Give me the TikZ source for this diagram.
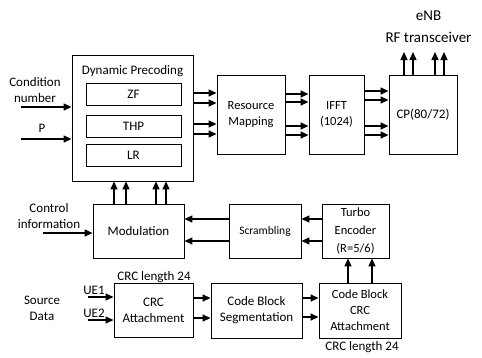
\documentclass[tikz,border=0pt]{standalone}
\usepackage{fontspec}
\setmainfont{Carlito}
\usetikzlibrary{arrows.meta}
\begin{document}
\begin{tikzpicture}[x=1pt,y=-1pt,
  blk/.style={draw,line width=0.9pt,inner sep=0pt,font=\fontsize{13}{16}\selectfont,align=center},
  lbl/.style={inner sep=0pt,font=\fontsize{13}{16}\selectfont,align=center},
  arr/.style={line width=1.4pt,-{Triangle[length=8pt,width=7pt]}}]
\useasboundingbox[fill=white] (0,0) rectangle (482,357);

% precoding block with its three schemes
\node[blk,minimum width=121pt,minimum height=126pt] (dp) at (132.5,118) {};
\node[lbl] (dpt) at (132.5,71) {Dynamic Precoding};
\node[blk,minimum width=95pt,minimum height=22pt] (zf) at (133.5,94) {ZF};
\node[blk,minimum width=95pt,minimum height=22pt] (thp) at (133.5,126) {THP};
\node[blk,minimum width=95pt,minimum height=22pt] (lr) at (133.5,155) {LR};

% OFDM chain
\node[blk,minimum width=68pt,minimum height=79pt,font=\fontsize{12.5}{16}\selectfont] (rm) at (251,114.5) {Resource\\Mapping};
\node[blk,minimum width=55pt,minimum height=79pt,font=\fontsize{12.5}{16}\selectfont] (ifft) at (336.5,114.5) {IFFT\\(1024)};
\node[blk,minimum width=68pt,minimum height=79pt] (cp) at (423,114.5) {CP(80/72)};

% coding and modulation chain
\node[blk,minimum width=91pt,minimum height=54pt] (mod) at (138.5,231) {Modulation};
\node[blk,minimum width=72pt,minimum height=54pt,font=\fontsize{11.5}{14}\selectfont] (scr) at (265,231) {Scrambling};
\node[blk,minimum width=67pt,minimum height=54pt,font=\fontsize{12.5}{18}\selectfont] (turbo) at (355.5,231) {Turbo\\Encoder\\(R=5/6)};
\node[blk,minimum width=79pt,minimum height=54pt] (crc) at (153.5,310) {CRC\\Attachment};
\node[blk,minimum width=91pt,minimum height=55pt] (seg) at (256.5,310.5) {Code Block\\Segmentation};
\node[blk,minimum width=82pt,minimum height=55pt,font=\fontsize{12.5}{16}\selectfont] (cbcrc) at (360,310.5) {Code Block\\CRC\\Attachment};

% free labels
\node[lbl,font=\fontsize{15}{22}\selectfont] (enb) at (428.5,27) {eNB\\RF transceiver};
\node[lbl] (cond) at (35,90) {Condition\\number};
\node[lbl] (plbl) at (42,128) {P};
\node[lbl] (ctrl) at (49,216) {Control\\information};
\node[lbl] (src) at (42,308.5) {Source\\Data};
\node[lbl] (crcl1) at (154,277) {CRC length 24};
\node[lbl] (crcl2) at (362,347) {CRC length 24};
\node[lbl,anchor=south] (ue1) at (94,295) {UE1};
\node[lbl,anchor=south] (ue2) at (94,318) {UE2};

% free ends of the input arrows
\coordinate (condin) at (21,107);
\coordinate (pin) at (21,139);
\coordinate (ctrlin) at (43,233);
\coordinate (ue1in) at (88,297);
\coordinate (ue2in) at (88,320);

% inputs
\draw[arr] (condin) -- (dp.west |- condin);
\draw[arr] (pin) -- (dp.west |- pin);
\draw[arr] (ctrlin) -- (mod.west |- ctrlin);
\draw[arr] (ue1in) -- (crc.west |- ue1in);
\draw[arr] (ue2in) -- (crc.west |- ue2in);

% precoding -> resource mapping -> IFFT -> CP
\foreach \y in {93,103,124,134} \draw[arr] (dp.east |- 0,\y) -- (rm.west |- 0,\y);
\foreach \y in {94,102,126,135} \draw[arr] (rm.east |- 0,\y) -- (ifft.west |- 0,\y);
\foreach \y in {91,100,126,135} \draw[arr] (ifft.east |- 0,\y) -- (cp.west |- 0,\y);
\foreach \x in {404,413,435,444} \draw[arr] (cp.north -| \x,0) -- (\x,52);

% modulation -> precoding
\foreach \x in {114,126,156,166} \draw[arr] (mod.north -| \x,0) -- (dp.south -| \x,0);

% turbo -> scrambling -> modulation
\foreach \y in {219,241} {
  \draw[arr] (turbo.west |- 0,\y) -- (scr.east |- 0,\y);
  \draw[arr] (scr.west |- 0,\y) -- (mod.east |- 0,\y);
}

% CRC -> segmentation -> code block CRC -> turbo
\draw[arr] (crc.east |- 0,298) -- (seg.west |- 0,298);
\draw[arr] (crc.east |- 0,318) -- (seg.west |- 0,318);
\draw[arr] (seg.east |- 0,298) -- (cbcrc.west |- 0,298);
\draw[arr] (seg.east |- 0,317) -- (cbcrc.west |- 0,317);
\foreach \x in {348,372} \draw[arr] (cbcrc.north -| \x,0) -- (turbo.south -| \x,0);
\end{tikzpicture}
\end{document}
